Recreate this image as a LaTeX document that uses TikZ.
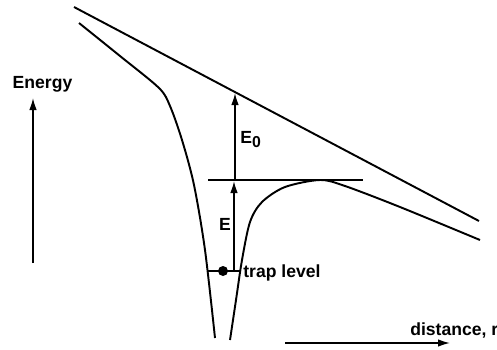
\documentclass[tikz,border=0pt]{standalone}
\usepackage{fontspec}
\setmainfont{Liberation Sans}
\usetikzlibrary{arrows.meta}

\begin{document}
\begin{tikzpicture}[
  x=0.02cm, y=-0.02cm,
  curve/.style={line width=1.1pt},
  level/.style={line width=0.6pt},
  arrow/.style={-{Latex[length=2.4mm, width=1.5mm]}, line width=0.8pt},
  txt/.style={font=\fontsize{10}{12}\selectfont\bfseries, inner sep=0pt},
]
\useasboundingbox (0,0) rectangle (497,349);
% vacuum level and the well
\coordinate (vtop) at (74,7);
\coordinate (vend) at (479,221);
\draw[curve] (vtop) -- (vend);
\draw[curve] plot[smooth, tension=0.5] coordinates {(79,23) (120,56) (159,88) (170,106) (182,140) (194,185) (205,250) (215,338)};
\draw[curve] plot[smooth, tension=0.5] coordinates {(230,340) (236,300) (242,260) (250,222) (262,202) (285,187) (320,180) (345,186) (400,207) (480,240)};
% barrier top and trap level
\coordinate (barl) at (208,180);
\coordinate (barr) at (363,180);
\draw[level] (barl) -- (barr);
\coordinate (trapl) at (208,271);
\coordinate (trapr) at (241,271);
\coordinate (trap) at (223,271);
\draw[level] (trapl) -- (trapr);
\fill (trap) circle[radius=1mm];
% energy arrows
\coordinate (ezero) at (235,180);
\coordinate (vac) at (235,93);
\coordinate (ebot) at (234,271);
\coordinate (etop) at (234,181);
\draw[arrow] (ezero) -- (vac);
\draw[arrow] (ebot) -- (etop);
\node[txt, anchor=base west] (e0) at (240,143) {E\textsubscript{\fontsize{9}{10}\selectfont 0}};
\node[txt, anchor=base] (e) at (225,230) {E};
\node[txt, anchor=base west] (traplbl) at (243,277) {trap level};
% axes
\coordinate (ylo) at (33,263);
\coordinate (yhi) at (33,98);
\draw[arrow] (ylo) -- (yhi);
\node[txt, anchor=base] (energy) at (42.5,88) {Energy};
\coordinate (xlo) at (285,343);
\coordinate (xhi) at (450,343);
\draw[arrow] (xlo) -- (xhi);
\node[txt, anchor=base west] (dist) at (410,335) {distance, r};
\end{tikzpicture}
\end{document}
